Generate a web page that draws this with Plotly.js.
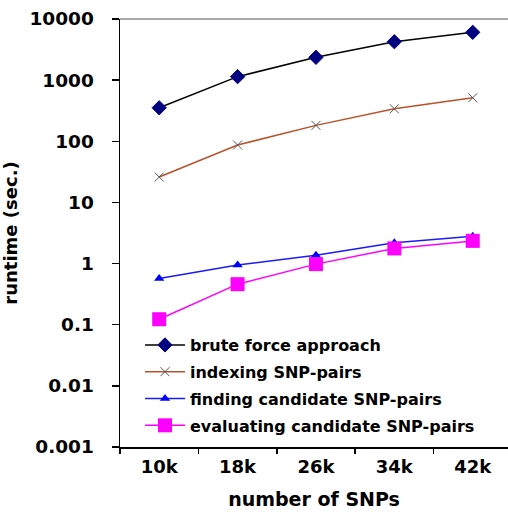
<!DOCTYPE html>
<html>
<head>
<meta charset="utf-8">
<script src="https://cdn.plot.ly/plotly-3.0.1.min.js"></script>
<style>html,body{margin:0;padding:0;background:#fff;}#chart{width:508px;height:521px;}</style>
</head>
<body>
<div id="chart"></div>
<script>
var categories = ["10k", "18k", "26k", "34k", "42k"];
var seriesNames = ["brute force approach", "indexing SNP-pairs", "finding candidate SNP-pairs", "evaluating candidate SNP-pairs"];
var bruteForce = [353, 1140, 2360, 4250, 6050];
var indexing = [26, 87, 182, 340, 515];
var findingCandidate = [0.57, 0.95, 1.37, 2.19, 2.8];
var evaluatingCandidate = [0.123, 0.46, 0.98, 1.77, 2.35];
var yTickVals = [0.001, 0.01, 0.1, 1, 10, 100, 1000, 10000];
var yTickText = ["0.001", "0.01", "0.1", "1", "10", "100", "1000", "10000"];

var F = "DejaVu Sans, Arial, sans-serif";
var traces = [
  {x: categories, y: bruteForce, name: seriesNames[0], type: "scatter", mode: "lines+markers", legendgroup: "a",
   line: {color: "#000000", width: 1.5}, marker: {symbol: "diamond", size: 11, color: "#000080", line: {color: "#000080", width: 1}}},
  {x: categories, y: indexing, name: seriesNames[1], type: "scatter", mode: "lines+markers", legendgroup: "b",
   line: {color: "#BC5128", width: 1.5}, marker: {symbol: "x-thin-open", size: 9, color: "#555555", line: {color: "#555555", width: 1}}},
  {x: categories, y: findingCandidate, name: seriesNames[2], type: "scatter", mode: "lines+markers", legendgroup: "c",
   line: {color: "#1A1AFF", width: 1.5}, marker: {symbol: "triangle-up", size: 9, color: "#0000FF"}},
  {x: categories, y: evaluatingCandidate, name: seriesNames[3], type: "scatter", mode: "lines+markers", legendgroup: "d",
   line: {color: "#FF00FF", width: 1.5}, marker: {symbol: "square", size: 14, color: "#FF00FF"}}
];

var layout = {
  width: 508, height: 521,
  margin: {l: 120, r: 0, t: 19, b: 74, pad: 0},
  paper_bgcolor: "#ffffff", plot_bgcolor: "#ffffff",
  font: {family: F, size: 18, color: "#000000", weight: "bold"},
  showlegend: true,
  legend: {x: 0.0515, y: 0.278, xanchor: "left", yanchor: "top", bgcolor: "rgba(0,0,0,0)",
    font: {family: F, size: 16, color: "#000000", weight: "bold"}, itemwidth: 40,
    traceorder: "grouped", tracegroupgap: 3},
  xaxis: {
    type: "category", range: [-0.5, 4.45], tickson: "boundaries",
    showline: true, linecolor: "#000000", linewidth: 1.5, ticks: "outside", ticklen: 5, tickwidth: 1.5, tickcolor: "#000000",
    showgrid: false, zeroline: false,
    tickfont: {family: F, size: 18, color: "#000000", weight: "bold"},
    ticklabelstandoff: 3,
    title: {text: "number of SNPs", font: {family: F, size: 19, color: "#000000", weight: "bold"}, standoff: 16}
  },
  yaxis: {
    type: "log", range: [-3, 4],
    tickvals: yTickVals, ticktext: yTickText,
    showline: true, linecolor: "#000000", linewidth: 1.5, ticks: "outside", ticklen: 7, tickwidth: 1.5, tickcolor: "#000000",
    showgrid: false, zeroline: false,
    tickfont: {family: F, size: 18.5, color: "#000000", weight: "bold"},
    ticklabelstandoff: 14,
    title: {text: "runtime (sec.)", font: {family: F, size: 18, color: "#000000", weight: "bold"}, standoff: 9}
  },
  shapes: [
    {type: "line", xref: "paper", yref: "paper", x0: 0, x1: 1, y0: 1, y1: 1, line: {color: "#8c8c8c", width: 1.5}}
  ]
};

Plotly.newPlot("chart", traces, layout, {displayModeBar: false, staticPlot: true});
</script>
</body>
</html>
